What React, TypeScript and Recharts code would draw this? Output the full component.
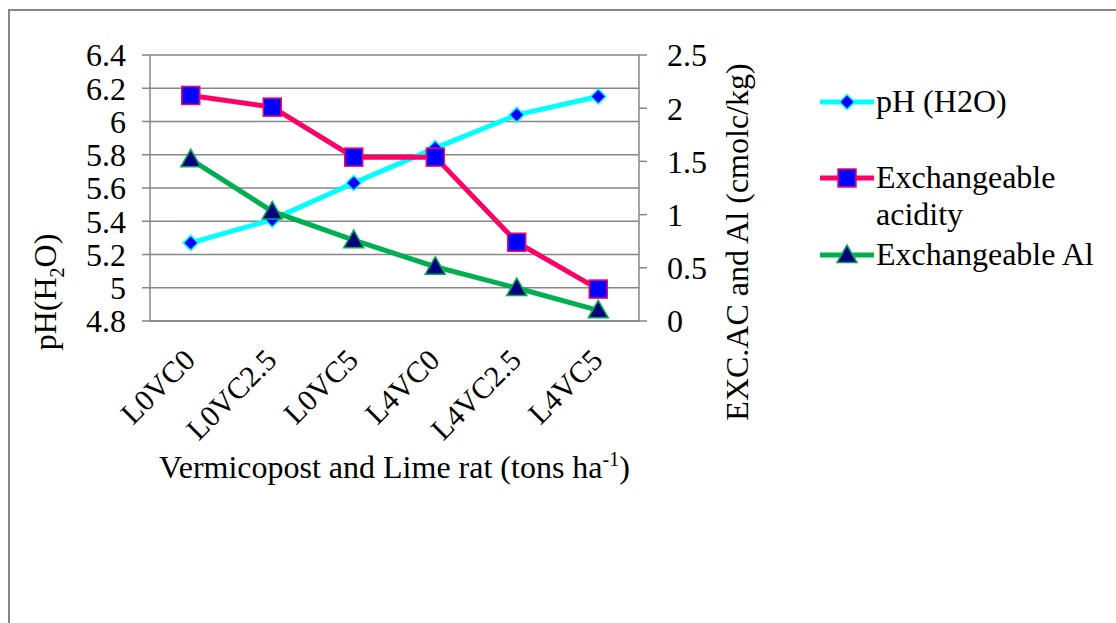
import * as React from "react"
import { CartesianGrid, ComposedChart, Legend, Line, XAxis, YAxis } from "recharts"

const treatments = ["L0VC0", "L0VC2.5", "L0VC5", "L4VC0", "L4VC2.5", "L4VC5"]
const phValues = [5.27, 5.41, 5.63, 5.84, 6.04, 6.15]
const acidityValues = [2.12, 2.01, 1.54, 1.54, 0.74, 0.3]
const aluminiumValues = [1.52, 1.03, 0.76, 0.51, 0.31, 0.1]
const phTicks = [4.8, 5, 5.2, 5.4, 5.6, 5.8, 6, 6.2, 6.4]
const excTicks = [0, 0.5, 1, 1.5, 2, 2.5]
const boundaryTicks = [0, 1, 2, 3, 4, 5, 6]
const legendOrder = ["ph", "acidity", "al"]

const FONT = '"Liberation Serif", "Times New Roman", Tinos, "DejaVu Serif", serif'
const AXIS_GREY = "#868686"

const data = treatments.map((treatment, i) => ({
  treatment,
  pos: i + 0.5,
  ph: phValues[i],
  acidity: acidityValues[i],
  al: aluminiumValues[i],
}))

const Diamond = ({ cx, cy, size = 7.5 }: any) => (
  <path
    d={`M${cx},${cy - size} L${cx + size},${cy} L${cx},${cy + size} L${cx - size},${cy} Z`}
    fill="#0000FF"
    stroke="#00FFFF"
    strokeWidth={1.5}
  />
)

const Square = ({ cx, cy, size = 9 }: any) => (
  <rect
    x={cx - size}
    y={cy - size}
    width={size * 2}
    height={size * 2}
    fill="#0000FF"
    stroke="#FF0066"
    strokeWidth={1.5}
  />
)

const Triangle = ({ cx, cy, size = 10 }: any) => (
  <path
    d={`M${cx},${cy - size} L${cx + size},${cy + size * 0.75} L${cx - size},${cy + size * 0.75} Z`}
    fill="#000080"
    stroke="#00B050"
    strokeWidth={1.5}
  />
)

const markers: Record<string, any> = { ph: Diamond, acidity: Square, al: Triangle }

// rotated category label, its end sits just under the category centre
function CategoryTick({ x, y, payload }: any) {
  const ax = x + 6
  const ay = y + 32
  return (
    <text
      x={ax}
      y={ay}
      textAnchor="end"
      transform={`rotate(-45, ${ax}, ${ay})`}
      fontFamily={FONT}
      fontSize={30}
      fill="#000"
    >
      {payload.value}
    </text>
  )
}

function LegendContent({ payload }: any) {
  const items = [...(payload || [])].sort(
    (a: any, b: any) => legendOrder.indexOf(a.dataKey) - legendOrder.indexOf(b.dataKey)
  )
  return (
    <div style={{ fontFamily: FONT, fontSize: 32, color: "#000", lineHeight: "37px" }}>
      {items.map((item: any, i: number) => {
        const Marker = markers[item.dataKey]
        return (
          <div
            key={item.dataKey}
            style={{ display: "flex", alignItems: "flex-start", marginTop: i === 1 ? 39 : i === 2 ? 3 : 0 }}
          >
            <svg width={58} height={37} style={{ flex: "none" }}>
              <line x1={2} x2={56} y1={19} y2={19} stroke={item.color} strokeWidth={5} />
              <Marker cx={29} cy={19} />
            </svg>
            <span style={{ width: 238 }}>{item.value}</span>
          </div>
        )
      })}
    </div>
  )
}

export default function App() {
  return (
    <div style={{ position: "absolute", left: 0, top: 0, width: 1116, height: 623, background: "#fff" }}>
      <div
        style={{
          position: "absolute",
          left: 8,
          top: 9,
          width: 1108,
          height: 614,
          borderTop: `2px solid ${AXIS_GREY}`,
          borderLeft: `2px solid ${AXIS_GREY}`,
        }}
      />
      <ComposedChart
        width={1116}
        height={623}
        data={data}
        margin={{ top: 55, right: 377, left: 50, bottom: 182 }}
        style={{ position: "absolute", left: 0, top: 0 }}
      >
        <CartesianGrid yAxisId="left" xAxisId="a" vertical={false} stroke={AXIS_GREY} strokeWidth={1.5} />
        <XAxis
          xAxisId="a"
          type="number"
          dataKey="pos"
          domain={[0, 6]}
          ticks={boundaryTicks}
          tick={false}
          tickSize={8}
          height={1}
          stroke={AXIS_GREY}
          strokeWidth={1.5}
        />
        <XAxis
          xAxisId="b"
          dataKey="treatment"
          scale="band"
          axisLine={false}
          tickLine={false}
          tick={<CategoryTick />}
          interval={0}
          height={119}
          label={{
            position: "insideBottom",
            content: ({ viewBox }: any) => (
              <text
                x={viewBox.x + viewBox.width / 2}
                y={478}
                textAnchor="middle"
                fontFamily={FONT}
                fontSize={32}
                fill="#000"
              >
                Vermicopost and Lime rat (tons ha
                <tspan dy={-12} fontSize={20}>-1</tspan>
                <tspan dy={12}>)</tspan>
              </text>
            ),
          }}
        />
        <YAxis
          yAxisId="left"
          domain={[4.8, 6.4]}
          ticks={phTicks}
          interval={0}
          width={100}
          tickSize={8}
          tickMargin={16}
          stroke={AXIS_GREY}
          strokeWidth={1.5}
          tick={{ fontFamily: FONT, fontSize: 32, fill: "#000" }}
          tickFormatter={(v: number) => String(v)}
          label={{
            content: () => (
              <text
                x={0}
                y={0}
                transform="translate(56, 292) rotate(-90)"
                textAnchor="middle"
                fontFamily={FONT}
                fontSize={32}
                fill="#000"
              >
                pH(H
                <tspan dy={8} fontSize={20}>2</tspan>
                <tspan dy={-8}>O)</tspan>
              </text>
            ),
          }}
        />
        <YAxis
          yAxisId="right"
          orientation="right"
          domain={[0, 2.5]}
          ticks={excTicks}
          interval={0}
          width={100}
          tickSize={8}
          tickMargin={20}
          stroke={AXIS_GREY}
          strokeWidth={1.5}
          tick={{ fontFamily: FONT, fontSize: 32, fill: "#000", textAnchor: "start" }}
          label={{
            content: () => (
              <text
                x={0}
                y={0}
                transform="translate(748, 242) rotate(-90)"
                textAnchor="middle"
                fontFamily={FONT}
                fontSize={32}
                fill="#000"
              >
                EXC.AC and Al (cmolc/kg)
              </text>
            ),
          }}
        />
        <Legend
          layout="vertical"
          align="center"
          verticalAlign="middle"
          wrapperStyle={{ left: 818, top: 83, width: 298 }}
          content={<LegendContent />}
        />
        <Line
          xAxisId="a"
          yAxisId="left"
          dataKey="ph"
          name="pH (H2O)"
          stroke="#00FFFF"
          strokeWidth={5}
          dot={<Diamond />}
          isAnimationActive={false}
        />
        <Line
          xAxisId="a"
          yAxisId="right"
          dataKey="acidity"
          name="Exchangeable acidity"
          stroke="#FF0066"
          strokeWidth={5}
          dot={<Square />}
          isAnimationActive={false}
        />
        <Line
          xAxisId="a"
          yAxisId="right"
          dataKey="al"
          name="Exchangeable Al"
          stroke="#00B050"
          strokeWidth={5}
          dot={<Triangle />}
          isAnimationActive={false}
        />
      </ComposedChart>
    </div>
  )
}
